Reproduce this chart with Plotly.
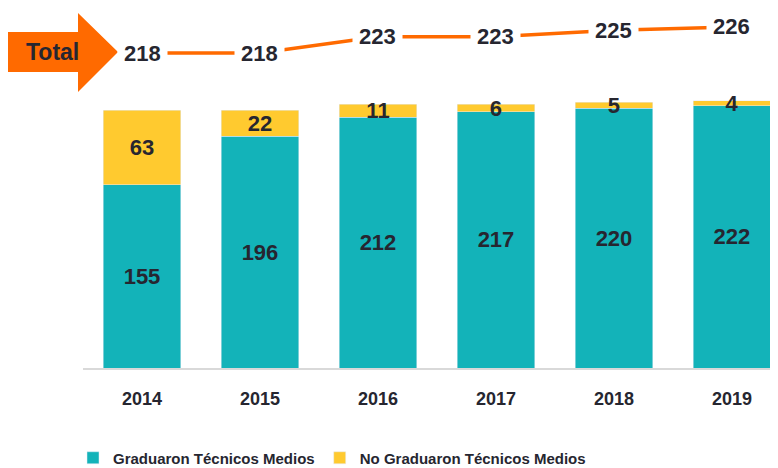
import plotly.graph_objects as go

years = ["2014", "2015", "2016", "2017", "2018", "2019"]
graduated = [155, 196, 212, 217, 220, 222]
not_graduated = [63, 22, 11, 6, 5, 4]
totals = [218, 218, 223, 223, 225, 226]

# page body adds an 8px offset; figure is sized so it ends at the window edge
OFF = 8
W, H = 778 - OFF, 468 - OFF
TEAL = "#13B3B9"
YELLOW = "#FFCA2F"
ORANGE = "#FF6A00"
DARK = "#262630"
FONT = "Liberation Sans, Arial, sans-serif"


def px(x, y):
    """window pixel -> paper fraction"""
    return (x - OFF) / W, 1 - (y - OFF) / H


fig = go.Figure()
fig.add_trace(go.Bar(
    x=years, y=graduated, name="Graduaron Técnicos Medios",
    marker=dict(color=TEAL), width=0.66,
    text=[str(v) for v in graduated], textposition="inside",
    insidetextanchor="middle", textangle=0,
    textfont=dict(family=FONT, size=22, color=DARK, weight="bold"),
    cliponaxis=False,
))
fig.add_trace(go.Bar(
    x=years, y=not_graduated, name="No Graduaron Técnicos Medios",
    marker=dict(color=YELLOW), width=0.66,
    text=[str(v) for v in not_graduated], textposition="inside",
    insidetextanchor="middle", textangle=0,
    textfont=dict(family=FONT, size=22, color=DARK, weight="bold"),
    cliponaxis=False,
))
fig.add_trace(go.Scatter(
    x=years, y=totals, yaxis="y2", mode="lines",
    line=dict(color=ORANGE, width=3.5), showlegend=False, hoverinfo="skip",
))

annotations = []
for i, t in enumerate(totals):
    annotations.append(dict(
        x=i, y=t, xref="x", yref="y2", text=str(t), showarrow=False,
        bgcolor="white", borderpad=6,
        font=dict(family=FONT, size=22, color=DARK, weight="bold"),
    ))

ax, ay = px(52, 52)
annotations.append(dict(
    x=ax, y=ay, xref="paper", yref="paper", text="Total", showarrow=False,
    font=dict(family=FONT, size=23, color=DARK, weight="bold"),
    xanchor="center", yanchor="middle",
))

arrow_pts = [(8, 32), (78, 32), (78, 13), (118, 52), (78, 92), (78, 72), (8, 72)]
path = "M " + " L ".join(f"{px(a, b)[0]:.5f},{px(a, b)[1]:.5f}" for a, b in arrow_pts) + " Z"

x0, _ = px(83, 0)
_, yb = px(0, 368)
_, yt = px(0, 95)
_, y2b = px(0, 80)
_, y2t = px(0, OFF)
lx, ly = px(73, 458)

fig.update_layout(
    width=W, height=H,
    margin=dict(l=0, r=0, t=0, b=0, autoexpand=False),
    paper_bgcolor="white", plot_bgcolor="white",
    barmode="stack",
    uniformtext=dict(minsize=22, mode="show"),
    xaxis=dict(
        domain=[x0, 1], range=[-0.5, 5.39], type="category",
        showline=True, linecolor="#D9D9D9", linewidth=2, automargin=False,
        showgrid=False, zeroline=False, ticks="", ticklabelstandoff=13,
        tickfont=dict(family=FONT, size=18, color=DARK, weight="bold"),
    ),
    yaxis=dict(
        domain=[yb, yt], range=[0, 231],
        visible=False, showgrid=False, zeroline=False, automargin=False,
    ),
    yaxis2=dict(
        domain=[y2b, y2t], range=[209.7, 234.3 - OFF / 3.25], anchor="x",
        visible=False, showgrid=False, zeroline=False, automargin=False,
    ),
    legend=dict(
        orientation="h", x=lx, y=ly, xanchor="left", yanchor="middle",
        font=dict(family=FONT, size=15, color=DARK, weight="bold"),
        itemclick=False, traceorder="normal",
    ),
    shapes=[dict(type="path", path=path, xref="paper", yref="paper",
                 fillcolor=ORANGE, line=dict(width=0), layer="below")],
    annotations=annotations,
    showlegend=True,
)

fig.write_html("out.html")
